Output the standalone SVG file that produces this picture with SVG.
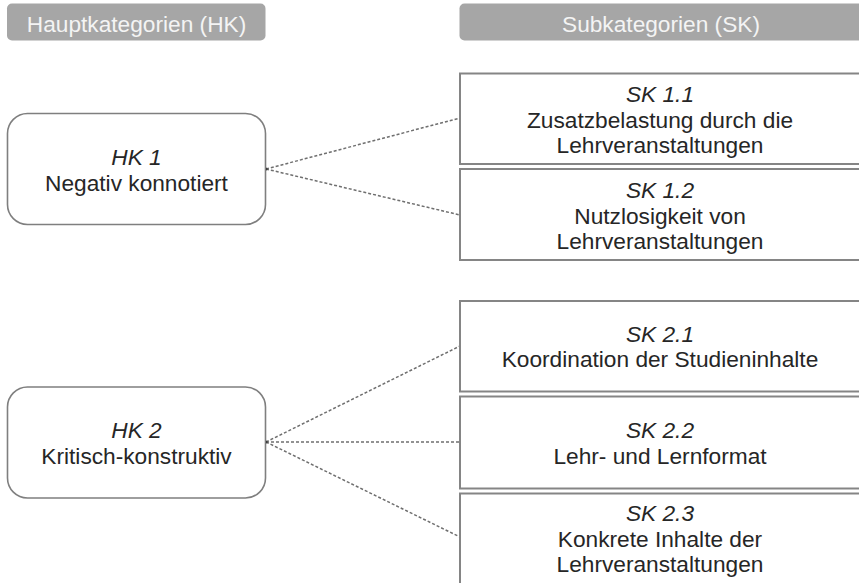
<svg xmlns="http://www.w3.org/2000/svg" width="859" height="583" viewBox="0 0 859 583">
<style>
.hdr{fill:#a6a6a6;stroke:none}
.hdrt{font-family:"Liberation Sans",Arial,sans-serif;font-size:22.7px;fill:#f4f4f4;text-anchor:middle}
.hk{fill:#ffffff;stroke:#7f7f7f;stroke-width:1.6}
.sk{fill:#ffffff;stroke:#858585;stroke-width:2}
.t{font-family:"Liberation Sans",Arial,sans-serif;font-size:22.7px;fill:#262626;text-anchor:middle}
.i{font-style:italic}
.c{stroke:#6f6f6f;stroke-width:1.5;stroke-dasharray:3 2;fill:none}
</style>
<rect width="859" height="583" fill="#ffffff"/>
<g id="header-hk"><rect class="hdr" x="7" y="3.5" width="258.5" height="37" rx="5"/><text class="hdrt" x="136.5" y="31.5">Hauptkategorien (HK)</text></g>
<g id="header-sk"><rect class="hdr" x="459.5" y="3.5" width="405" height="37" rx="5"/><text class="hdrt" x="661" y="31.5">Subkategorien (SK)</text></g>
<g id="connectors">
<line class="c" x1="266" y1="169" x2="460" y2="118"/>
<line class="c" x1="266" y1="169" x2="460" y2="215"/>
<line class="c" x1="266" y1="442" x2="460" y2="346"/>
<line class="c" x1="266" y1="442" x2="460" y2="442"/>
<line class="c" x1="266" y1="442" x2="460" y2="537"/>
<circle cx="266" cy="169" r="1.5" fill="#222"/>
<circle cx="266" cy="442" r="1.5" fill="#222"/>
</g>
<g id="hk1"><rect class="hk" x="7.5" y="113.5" width="258" height="111" rx="20"/><text class="t i" x="136.5" y="164.75">HK 1</text><text class="t" x="136.5" y="190.5">Negativ konnotiert</text></g>
<g id="hk2"><rect class="hk" x="7.5" y="387" width="258" height="111" rx="20"/><text class="t i" x="136.5" y="438">HK 2</text><text class="t" x="136.5" y="463.5">Kritisch-konstruktiv</text></g>
<g id="sk11"><rect class="sk" x="460" y="73.5" width="404" height="90.5"/><text class="t i" x="660" y="102">SK 1.1</text><text class="t" x="660" y="127.5">Zusatzbelastung durch die</text><text class="t" x="660" y="153">Lehrveranstaltungen</text></g>
<g id="sk12"><rect class="sk" x="460" y="169" width="404" height="91"/><text class="t i" x="660" y="198">SK 1.2</text><text class="t" x="660" y="223.5">Nutzlosigkeit von</text><text class="t" x="660" y="249">Lehrveranstaltungen</text></g>
<g id="sk21"><rect class="sk" x="460" y="301" width="404" height="90.5"/><text class="t i" x="660" y="341.5">SK 2.1</text><text class="t" x="660" y="367">Koordination der Studieninhalte</text></g>
<g id="sk22"><rect class="sk" x="460" y="396.5" width="404" height="92"/><text class="t i" x="660" y="438">SK 2.2</text><text class="t" x="660" y="464">Lehr- und Lernformat</text></g>
<g id="sk23"><rect class="sk" x="460" y="493.5" width="404" height="95"/><text class="t i" x="660" y="521">SK 2.3</text><text class="t" x="660" y="546.5">Konkrete Inhalte der</text><text class="t" x="660" y="572">Lehrveranstaltungen</text></g>
</svg>
